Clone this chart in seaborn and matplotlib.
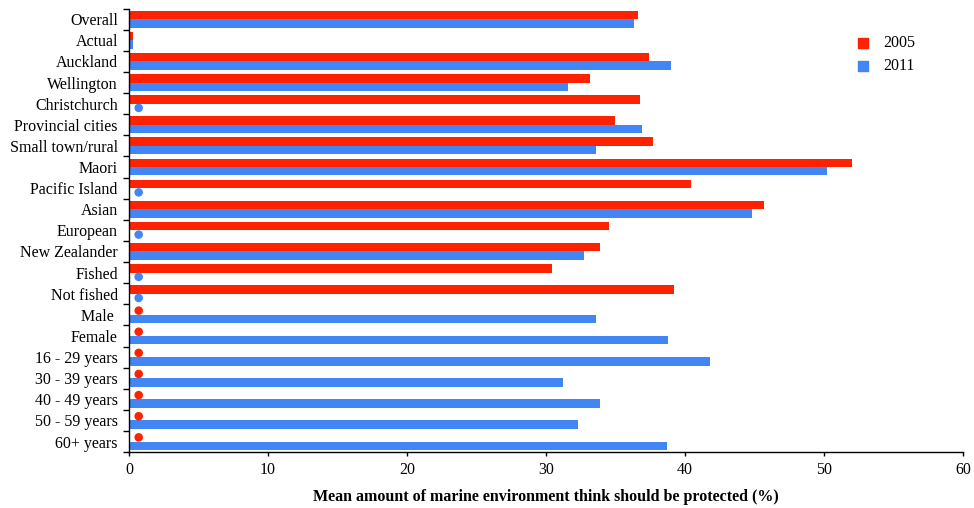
import numpy as np
import pandas as pd
import seaborn as sns
import matplotlib.pyplot as plt
from matplotlib.ticker import FixedLocator

# Data (NaN = no value, shown as a dot)
categories = ["Overall", "Actual", "Auckland", "Wellington", "Christchurch",
              "Provincial cities", "Small town/rural", "Maori", "Pacific Island",
              "Asian", "European", "New Zealander", "Fished", "Not fished",
              "Male ", "Female", "16 - 29 years", "30 - 39 years", "40 - 49 years",
              "50 - 59 years", "60+ years"]
vals_2005 = [36.6, 0.3, 37.4, 33.2, 36.8, 35.0, 37.7, 52.0, 40.4, 45.7, 34.5,
             33.9, 30.4, 39.2, np.nan, np.nan, np.nan, np.nan, np.nan, np.nan, np.nan]
vals_2011 = [36.3, 0.3, 39.0, 31.6, np.nan, 36.9, 33.6, 50.2, np.nan, 44.8, np.nan,
             32.7, np.nan, np.nan, 33.6, 38.8, 41.8, 31.2, 33.9, 32.3, 38.7]
years = ["2005", "2011"]
missing_value = 0.7  # where the "no data" dot sits

colors = {"2005": "#FF2200", "2011": "#4285F4"}

df = pd.DataFrame({"Category": categories, "2005": vals_2005, "2011": vals_2011})
long_df = df.melt(id_vars="Category", var_name="Year", value_name="Value")

plt.rcParams["font.family"] = ["Liberation Serif", "DejaVu Serif"]

fig = plt.figure(figsize=(9.74, 5.08), dpi=100)
ax = fig.add_axes([0.1324, 0.110, 0.8563, 0.873])

sns.barplot(data=long_df, x="Value", y="Category", hue="Year", hue_order=years,
            palette=colors, orient="h", width=0.8, saturation=1, ax=ax,
            errorbar=None, legend=False)

# dots for missing values
dots = []
for i, cat in enumerate(categories):
    for j, yr in enumerate(years):
        if np.isnan(df.loc[i, yr]):
            dots.append({"x": missing_value, "y": i + (j - 0.5) * 0.4, "Year": yr})
dots_df = pd.DataFrame(dots)
sns.scatterplot(data=dots_df, x="x", y="y", hue="Year", palette=colors,
                s=38, edgecolor="none", legend=False, ax=ax)

# legend with square markers
for yr in years:
    ax.scatter([], [], marker="s", s=55, color=colors[yr], label=yr)
ax.legend(loc="upper left", bbox_to_anchor=(0.853, 0.955), frameon=False,
          fontsize=11.5, handletextpad=0.3, labelspacing=0.45, borderaxespad=0)

ax.set_xlim(0, 60)
ax.set_ylim(len(categories) - 0.5, -0.5)
ax.set_xticks(range(0, 61, 10))
ax.set_yticks(range(len(categories)))
ax.set_yticklabels(categories)
ax.yaxis.set_minor_locator(FixedLocator(np.arange(-0.5, len(categories), 1)))
ax.tick_params(axis="y", which="major", length=0, labelsize=11.5, pad=8)
ax.tick_params(axis="y", which="minor", length=4, width=1)
ax.tick_params(axis="x", length=3, width=1, labelsize=11.5, pad=4)
ax.set_xlabel("Mean amount of marine environment think should be protected (%)",
              fontsize=11.5, fontweight="bold", labelpad=8)
ax.set_ylabel("")

for side in ["top", "right"]:
    ax.spines[side].set_visible(False)
for side in ["left", "bottom"]:
    ax.spines[side].set_linewidth(1)
    ax.spines[side].set_color("black")

fig.savefig("out.png", dpi=100)
